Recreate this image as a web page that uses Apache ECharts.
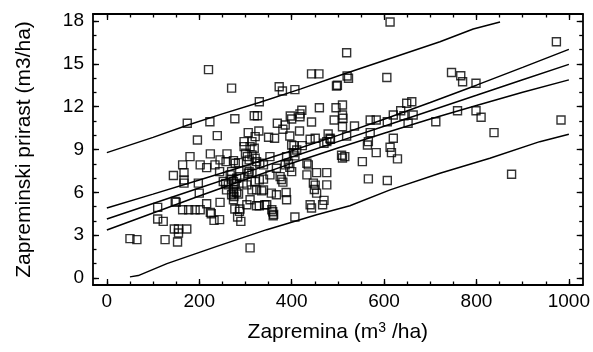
<!DOCTYPE html>
<html><head><meta charset="utf-8">
<script src="https://cdn.jsdelivr.net/npm/echarts@6/dist/echarts.min.js"></script>
<style>html,body{margin:0;padding:0;background:#fff}#c{width:593px;height:352px}</style>
</head><body><div id="c"></div>
<script>
// Scatter points: [Zapremina, Zapreminski prirast]
const points = [
[519,15.78],[220,14.6],[443,14.3],[459,14.3],[520,14.15],[523,14.0],[270,13.3],[373,13.4],[380,13.1],[407,13.2],[497,13.45],[499,13.5],[330,12.35],[174,10.84],[223,10.95],[277,11.16],[319,11.37],[326,11.37],[196,9.67],[239,9.97],[306,10.18],[329,10.3],[297,9.55],[314,9.55],[321,9.9],[350,9.86],[363,9.79],[369,10.84],[381,10.42],[386,10.72],[397,11.35],[400,11.14],[418,11.5],[422,11.75],[443,10.93],[460,11.93],[496,11.93],[510,12.12],[492,11.07],[510,11.42],[511,11.19],[510,10.6],[519,9.95],[400,9.32],[405,9.27],[423,9.27],[440,9.72],[451,9.79],[479,10.09],[483,9.79],[476,9.55],[484,9.72],[470,9.44],[297,9.2],[310,9.2],[319,9.09],[417,10.3],[396,9.95],[418,11.3],
[613,17.94],[973,16.55],[606,14.05],[746,14.4],[766,14.17],[770,13.75],[799,13.64],[536,10.65],[570,11.07],[583,11.07],[607,10.95],[620,11.42],[636,11.72],[649,12.24],[660,12.35],[643,11.37],[663,11.42],[652,10.84],[712,10.95],[759,11.72],[799,11.72],[810,11.26],[983,11.07],[838,10.18],[570,10.18],[566,9.55],[564,9.32],[620,9.79],[613,9.16],
[583,8.78],[616,8.78],[629,8.34],[553,8.15],[508,8.6],[510,8.4],[515,8.5],[566,6.94],[607,6.83],[876,7.27],
[180,8.5],[224,8.69],[260,8.69],[164,7.92],[144,7.18],[167,7.38],[167,6.87],[167,6.64],[202,7.92],[216,7.73],[234,7.92],[245,8.27],[244,7.45],[258,8.15],[278,8.04],[274,8.22],[285,8.08],[300,8.74],[304,8.5],[308,8.27],[314,8.62],[321,8.39],[324,8.15],[331,8.04],[339,7.92],[353,8.5],[303,7.57],[308,7.45],[314,7.34],[306,7.34],[267,7.22],[270,7.45],[252,6.76],[263,6.52],[257,6.6],[270,6.92],[274,6.76],[281,6.98],[277,6.6],[274,6.17],[281,6.0],[274,5.94],[285,5.88],[270,5.83],[259,6.17],[288,7.1],[295,6.64],[303,6.52],[314,6.17],[324,6.17],[335,6.1],[339,6.17],[330,6.87],[339,6.92],[321,6.76],[353,7.22],[356,5.94],[367,5.83],[375,7.1],[378,6.9],[381,6.71],[367,7.69],[386,7.92],[393,8.04],[396,7.76],[400,7.45],[389,8.5],[407,8.55],[433,8.04],[436,7.92],[404,8.78],[411,8.97],[433,7.22],[454,7.38],[476,7.38],[476,6.52],[447,6.64],[451,6.5],[449,6.2],[454,5.94],[440,5.13],[443,4.9],[467,5.13],[470,5.43],[407,4.27],[388,5.99],[389,5.48],[357,4.78],[359,4.64],[360,4.36],[361,4.45],[342,5.13],[346,5.13],[324,5.06],[330,5.06],[303,5.13],[310,5.48],[288,4.83],[287,4.66],[277,4.83],[283,4.27],[290,3.96],[274,5.48],[275,5.7],[245,5.29],[216,5.2],[224,4.59],[226,4.5],[232,4.03],[244,4.08],[202,4.78],[191,4.78],[177,4.78],[164,4.78],[148,5.36],[150,5.29],[198,6.64],[200,5.94],[110,4.94],[110,4.13],[122,3.96],[146,3.43],[155,3.43],[173,3.43],[155,3.15],[126,2.68],[153,2.52],[50,2.75],[65,2.68],[310,2.1]
];
// Regression line and confidence band (read at x = 0..1000 step 100)
const bandX = [0,100,200,300,400,500,600,700,800,900,1000];
const fitY = [4.13,5.21,6.30,7.38,8.47,9.55,10.63,11.72,12.80,13.89,14.97];
const ciUpper = [4.90,5.87,6.86,7.86,8.91,9.99,11.12,12.30,13.51,14.76,16.02];
const ciLower = [3.36,4.55,5.74,6.90,8.03,9.11,10.14,11.14,12.09,13.02,13.88];
// Prediction band
const piUpperX = [0,100,174,250,330,420,505,613,721,793,851];
const piUpperY = [8.78,9.85,10.7,11.5,12.3,13.25,14.2,15.38,16.55,17.45,17.94];
const piLowerX = [50,68,130,238,346,454,526,613,721,829,937,1000];
const piLowerY = [0.07,0.16,1.0,2.21,3.38,4.43,5.06,6.17,7.34,8.39,9.55,10.07];
// Ticks
const xMajor = [0,200,400,600,800,1000];
const xMinor = [0,50,100,150,200,250,300,350,400,450,500,550,600,650,700,750,800,850,900,950,1000];
const yMajor = [0,3,6,9,12,15,18];
const yMinor = [0,1,2,3,4,5,6,7,8,9,10,11,12,13,14,15,16,17,18];

const FONT = 'Liberation Sans, Arial, sans-serif';
const zip = (xs, ys) => xs.map((x,i)=>[x, ys[i]]);
const lineSeries = (data) => ({type:'line', data, showSymbol:false, symbol:'none', silent:true,
  lineStyle:{color:'#000', width:1.5}, z:3, animation:false});

function xAx(pos, vals, len, labels, line){
  return {type:'value', position:pos, min:-30, max:1030, gridIndex:0,
    axisLine:{show:line, onZero:false, lineStyle:{color:'#000', width:1.8}},
    axisTick:{show:true, inside:true, length:len, customValues:vals, lineStyle:{color:'#000', width:1.3}},
    axisLabel:labels ? {show:true, customValues:xMajor, formatter:v=>String(v), color:'#000', fontFamily:FONT, fontSize:19, margin:7} : {show:false},
    splitLine:{show:false}};
}
function yAx(pos, vals, len, labels, line){
  return {type:'value', position:pos, min:-0.5, max:18.5, gridIndex:0,
    axisLine:{show:line, onZero:false, lineStyle:{color:'#000', width:1.8}},
    axisTick:{show:true, inside:true, length:len, customValues:vals, lineStyle:{color:'#000', width:1.3}},
    axisLabel:labels ? {show:true, customValues:yMajor, formatter:v=>String(v), color:'#000', fontFamily:FONT, fontSize:19, margin:9} : {show:false},
    splitLine:{show:false}};
}

const xa0 = xAx('bottom', xMajor, 6, true, true);
xa0.name = '{a|Zapremina (m}{s|3}{a| /ha)}';
xa0.nameLocation = 'middle';
xa0.nameGap = 36;
xa0.nameTextStyle = {color:'#000', fontFamily:FONT, fontSize:21,
  rich:{a:{fontFamily:FONT, fontSize:21, color:'#000'}, s:{fontFamily:FONT, fontSize:14, color:'#000', padding:[0,0,9,0]}}};
const ya0 = yAx('left', yMajor, 6, true, true);
ya0.name = 'Zapreminski prirast (m3/ha)';
ya0.nameLocation = 'middle';
ya0.nameGap = 58;
ya0.nameTextStyle = {color:'#000', fontFamily:FONT, fontSize:21};

const chart = echarts.init(document.getElementById('c'), null, {renderer:'canvas'});
chart.setOption({
  animation:false,
  backgroundColor:'#fff',
  grid:{left:93, right:10, top:14, bottom:67, containLabel:false},
  xAxis:[xa0, xAx('bottom', xMinor, 3.5, false, false), xAx('top', xMajor, 6, false, true), xAx('top', xMinor, 3.5, false, false)],
  yAxis:[ya0, yAx('left', yMinor, 3.5, false, false), yAx('right', yMajor, 6, false, true), yAx('right', yMinor, 3.5, false, false)],
  series:[
    {type:'scatter', data:points, symbol:'rect', symbolSize:8, z:4,
     itemStyle:{color:'rgba(0,0,0,0)', borderColor:'#000', borderWidth:1.4}},
    lineSeries(zip(bandX, fitY)),
    lineSeries(zip(bandX, ciUpper)),
    lineSeries(zip(bandX, ciLower)),
    lineSeries(zip(piUpperX, piUpperY)),
    lineSeries(zip(piLowerX, piLowerY))
  ]
});
</script></body></html>
